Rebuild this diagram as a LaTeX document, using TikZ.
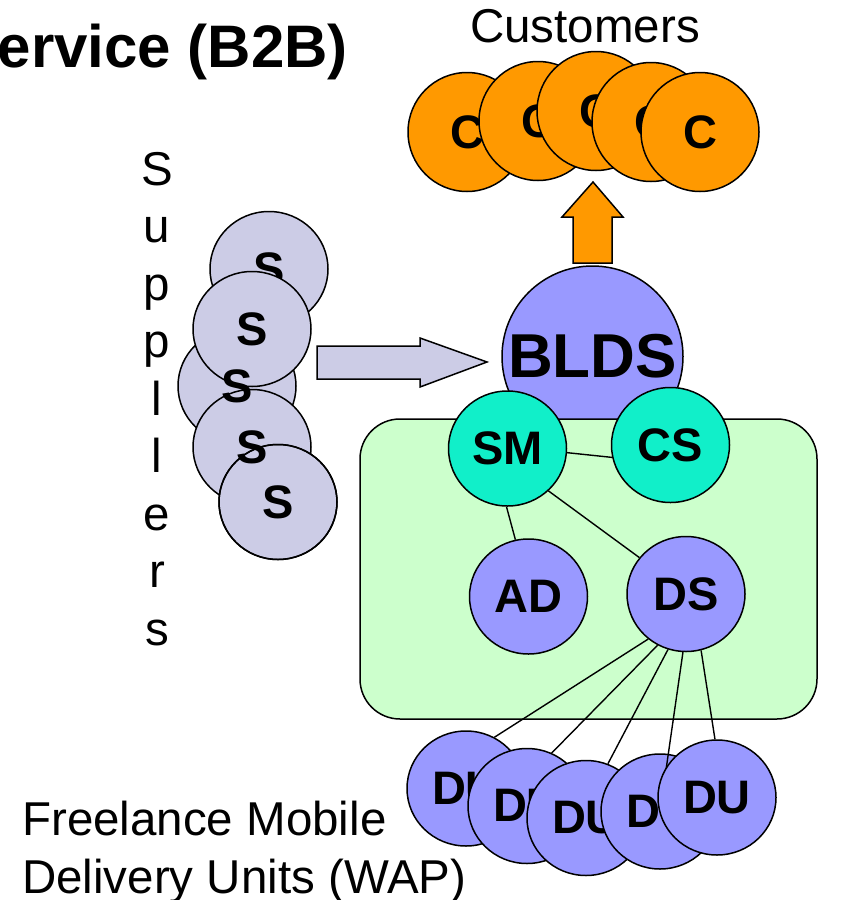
\documentclass[tikz,border=0pt]{standalone}
\usepackage{fontspec}
\setmainfont{Liberation Sans}
\usetikzlibrary{shapes.geometric}
\definecolor{custorange}{HTML}{FF9900}
\definecolor{suppgray}{HTML}{CCCCE6}
\definecolor{unitblue}{HTML}{9999FF}
\definecolor{mgrteal}{HTML}{11EFC9}
\definecolor{zonegreen}{HTML}{CCFFCC}
\tikzset{
  ball/.style={ellipse, draw=black, line width=1.5pt, inner sep=0pt,
    minimum width=118pt, minimum height=115pt,
    font=\bfseries\fontsize{47}{47}\selectfont},
  cust/.style={ball, fill=custorange, minimum height=119pt},
  supp/.style={ball, fill=suppgray},
  unit/.style={ball, fill=unitblue},
  mgr/.style={ball, fill=mgrteal},
  rim/.style={ball, fill=none},
  hub/.style={circle, draw=black, line width=1.5pt, inner sep=0pt, fill=unitblue,
    minimum size=181pt, font=\bfseries\fontsize{62}{62}\selectfont},
  lbl/.style={inner sep=0pt, font=\bfseries\fontsize{47}{47}\selectfont},
  link/.style={draw=black, line width=1.4pt},
  blockarrow/.style={draw=black, line width=1.5pt, line join=miter},
  plain/.style={inner sep=0pt, font=\fontsize{47.5}{57.5}\selectfont},
  zone/.style={draw=black, line width=1.5pt, fill=zonegreen, rounded corners=40pt}
}
\begin{document}
\begin{tikzpicture}[x=1pt,y=-1pt]
\useasboundingbox (0,0) rectangle (849,900);
\clip (0,0) rectangle (849,900);

% title (cut at left edge)
\node[inner sep=0pt, anchor=base east, font=\bfseries\fontsize{60}{60}\selectfont] (title) at (348,67) {Service (B2B)};

% customers
\node[plain, anchor=base] (custtxt) at (585,42) {Customers};
\node[cust] (c1) at (467,132) {C};
\node[cust] (c2) at (538,121) {C};
\node[cust] (c3) at (596,111) {C};
\node[cust] (c4) at (651,122) {C};
\node[cust] (c5) at (700,132) {C};

% up arrow
\draw[blockarrow, fill=custorange] (573,263) -- (573,217) -- (562,217) -- (593,182) -- (623,217) -- (612,217) -- (612,263) -- cycle;

% suppliers
\node[plain, align=center, anchor=north] (supptxt) at (157,152) {S\\u\\p\\p\\l\\l\\e\\r\\s};
\node[supp] (s1) at (269,269) {S};
\node[supp] (s3) at (237,386) {};
\node[supp] (s2) at (252,329) {S};
\node[supp] (s4) at (252,447) {};
\node[supp] (s5) at (278,502) {S};
\node[lbl] (s3l) at (s3) {S};
\node[lbl] (s4l) at (s4) {S};
\node[rim] (s5rim) at (s5) {};

% supplier arrow
\draw[blockarrow, fill=suppgray] (317,346) -- (420,346) -- (420,338) -- (487,362) -- (420,387) -- (420,379) -- (317,379) -- cycle;

% BLDS and zone
\node[hub] (blds) at (592.5,356.5) {BLDS};
\path[zone] (360,419) rectangle (817,719);

\node[mgr] (sm) at (507.5,448.5) {SM};
\node[mgr] (cs) at (670.5,445) {CS};
\node[unit] (ad) at (528.5,596.5) {AD};
\node[unit] (ds) at (686,594) {DS};

\draw[link] (sm.-4) -- (cs.192);
\draw[link] (sm.-91) -- (ad.103);
\draw[link] (sm.-46) -- (ds.142);

% delivery units
\node[unit] (du1) at (466,788.5) {DU};
\node[unit] (du2) at (527,806) {DU};
\node[unit] (du3) at (586,818) {DU};
\node[unit] (du4) at (660,811.5) {DU};
\draw[link] (ds.267) -- (du4.center);
\node[unit] (du5) at (717,797.5) {DU};

\draw[link] (ds.230) -- (du1.61);
\draw[link] (ds.241) -- (du2.65);
\draw[link] (ds.252) -- (du3.68);
\draw[link] (ds.285) -- (du5.92);

% freelance text
\node[plain, align=left, anchor=base west] (fltxt) at (22,893) {Freelance Mobile\\Delivery Units (WAP)};
\end{tikzpicture}
\end{document}
